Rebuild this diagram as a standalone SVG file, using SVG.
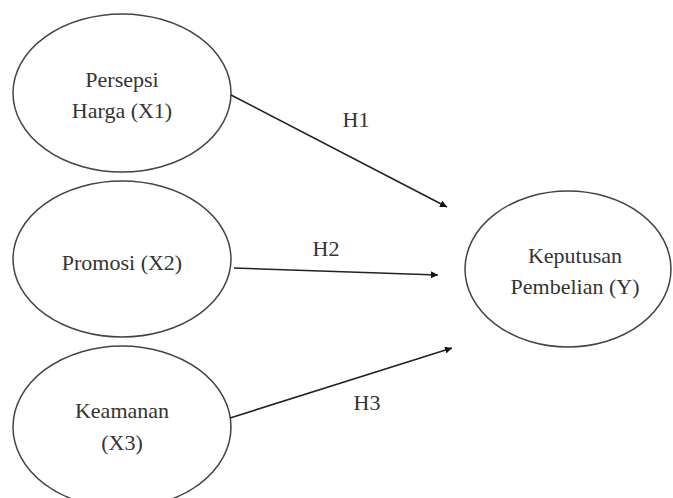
<svg xmlns="http://www.w3.org/2000/svg" width="673" height="498" viewBox="0 0 673 498">
<style>
.node{fill:#fff;stroke:#444;stroke-width:1.5}
.t{font-family:'Liberation Serif','DejaVu Serif',serif;font-size:22px;fill:#333;text-anchor:middle}
.c{stroke:#222;stroke-width:1.6;fill:none;marker-end:url(#ah)}
</style>
<defs>
<marker id="ah" viewBox="0 0 10 10" refX="10" refY="5" markerWidth="7" markerHeight="7" markerUnits="userSpaceOnUse" orient="auto">
<path d="M0,0 L10,5 L0,10 z" fill="#111"/>
</marker>
</defs>
<rect width="673" height="498" fill="#fff"/>
<g id="x1">
<ellipse class="node" cx="122" cy="93" rx="109" ry="79"/>
<text class="t" x="122" y="87">Persepsi</text>
<text class="t" x="122" y="118">Harga (X1)</text>
</g>
<g id="x2">
<ellipse class="node" cx="122" cy="259" rx="109" ry="78"/>
<text class="t" x="122" y="270">Promosi (X2)</text>
</g>
<g id="x3">
<ellipse class="node" cx="122" cy="427" rx="109" ry="81"/>
<text class="t" x="122" y="418">Keamanan</text>
<text class="t" x="122" y="450">(X3)</text>
</g>
<g id="y">
<ellipse class="node" cx="568" cy="269" rx="103" ry="78"/>
<text class="t" x="575" y="263">Keputusan</text>
<text class="t" x="575" y="294">Pembelian (Y)</text>
</g>
<g id="connectors">
<line class="c" x1="231" y1="95" x2="447" y2="207"/>
<line class="c" x1="234" y1="268" x2="438" y2="275"/>
<line class="c" x1="230" y1="418" x2="452" y2="348"/>
<text class="t" x="356" y="127">H1</text>
<text class="t" x="326" y="256">H2</text>
<text class="t" x="367" y="410">H3</text>
</g>
</svg>
